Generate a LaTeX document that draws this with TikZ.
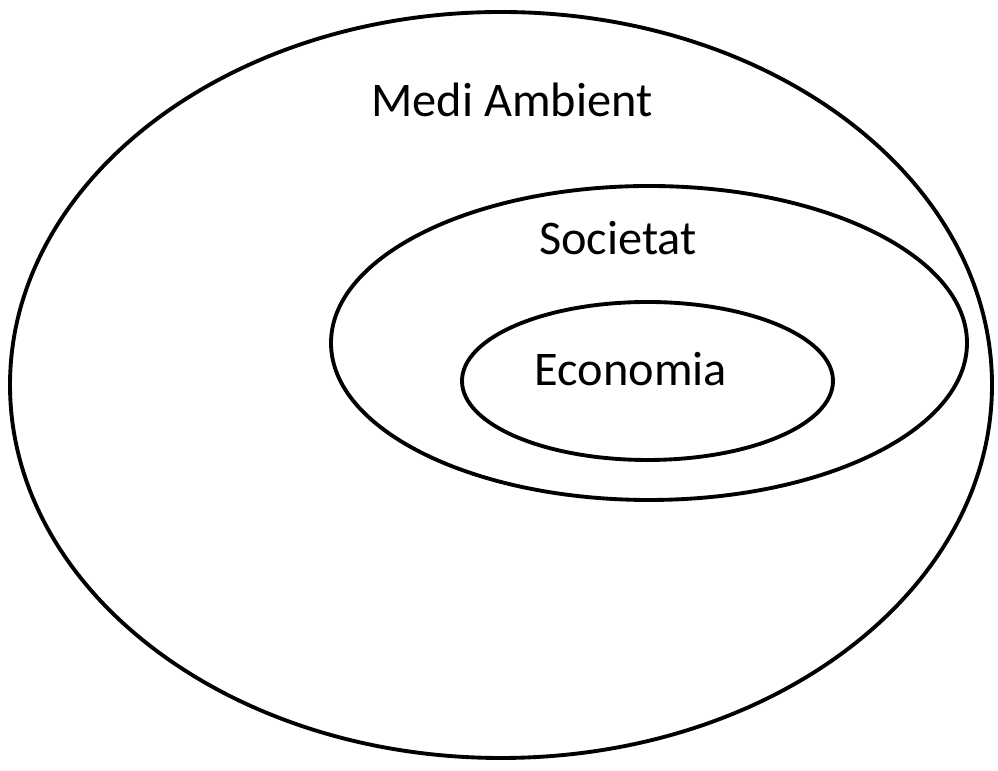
\documentclass[tikz,border=0pt]{standalone}
\usepackage{fontspec}
\setmainfont{Carlito}
\begin{document}
\begin{tikzpicture}[ring/.style={draw=black,line width=2.2pt},
	lbl/.style={font=\fontsize{27.5}{32}\selectfont}]
	
	\useasboundingbox (0,0) rectangle (19.96,15.42);
	
	\draw[ring] (10.02,7.72) ellipse [x radius=9.82, y radius=7.46];
	\node[lbl] (medi) at (10.24,13.42) {Medi Ambient};
	
	\draw[ring] (12.98,8.56) ellipse [x radius=6.36, y radius=3.14];
	\node[lbl] (soc) at (12.36,10.66) {Societat};
	
	\draw[ring] (12.95,7.80) ellipse [x radius=3.71, y radius=1.58];
	\node[lbl] (eco) at (12.62,8.04) {Economia};
	
\end{tikzpicture}
\end{document}
